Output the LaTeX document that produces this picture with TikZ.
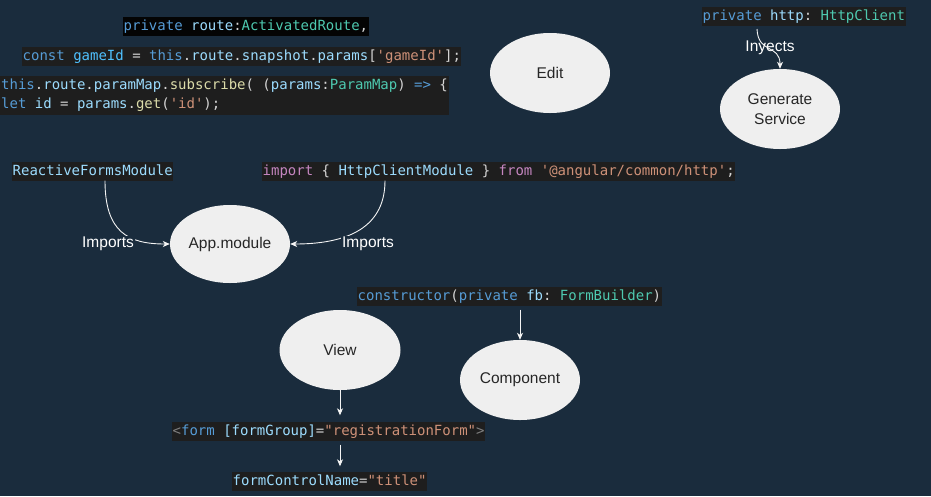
\documentclass[tikz,border=0pt]{standalone}
\usepackage{fontspec}
\setmainfont{Liberation Sans}
\setsansfont{Liberation Sans}
\setmonofont{DejaVu Sans Mono}
\usetikzlibrary{shapes.geometric,arrows.meta}
\definecolor{bg}{RGB}{26,44,61}
\definecolor{codebg}{RGB}{30,30,30}
\definecolor{codebk}{RGB}{4,4,4}
\definecolor{kw}{HTML}{569CD6}
\definecolor{var}{HTML}{9CDCFE}
\definecolor{cst}{HTML}{4FC1FF}
\definecolor{typ}{HTML}{4EC9B0}
\definecolor{str}{HTML}{CE9178}
\definecolor{fn}{HTML}{DCDCAA}
\definecolor{ctl}{HTML}{C586C0}
\definecolor{pl}{HTML}{D4D4D4}
\definecolor{gr}{HTML}{808080}
\definecolor{ellfill}{HTML}{EFEFEF}
\definecolor{lnc}{HTML}{F4F4F4}
\newcommand{\K}[1]{\textcolor{kw}{#1}}
\newcommand{\V}[1]{\textcolor{var}{#1}}
\newcommand{\C}[1]{\textcolor{cst}{#1}}
\newcommand{\T}[1]{\textcolor{typ}{#1}}
\newcommand{\Sq}[1]{\textcolor{str}{#1}}
\newcommand{\F}[1]{\textcolor{fn}{#1}}
\newcommand{\Ct}[1]{\textcolor{ctl}{#1}}
\newcommand{\G}[1]{\textcolor{gr}{#1}}
\begin{document}
\begin{tikzpicture}[x=1pt,y=-1pt,
  codebox/.style={fill=codebg, text=pl, inner xsep=0.5pt, inner ysep=0pt,
    minimum height=19pt, text height=12pt, text depth=3pt,
    font=\ttfamily\fontsize{14}{19}\selectfont, anchor=west},
  codeblock/.style={fill=codebg, text=pl, inner xsep=1pt, inner ysep=3pt,
    font=\ttfamily\fontsize{14}{19}\selectfont, align=left, anchor=north west},
  ell/.style={ellipse, fill=ellfill, draw=none, inner sep=0pt,
    minimum width=120pt, minimum height=80pt, text=black!85,
    font=\sffamily\fontsize{15.5}{20}\selectfont, align=center},
  lbl/.style={text=white, font=\sffamily\fontsize{15.5}{18}\selectfont, inner sep=1pt},
  arr/.style={draw=lnc, line width=0.9pt, -{Stealth[length=7pt,width=6pt,inset=2pt]}}]
\useasboundingbox[fill=bg] (0,0) rectangle (931,496);

% code boxes
\node[codebox, fill=codebk] (route) at (123,26) {\K{private} \V{route}:\T{ActivatedRoute},};
\node[codebox] (gid) at (22,56) {\K{const} \C{gameId} = \K{this}.\V{route}.\V{snapshot}.\V{params}[\Sq{'gameId'}];};
\node[codeblock] (pmap) at (0,76)
  {\K{this}.\V{route}.\V{paramMap}.\F{subscribe}( (\V{params}:\T{ParamMap}) \K{=>} \{\\
   \K{let} \V{id} = \V{params}.\F{get}(\Sq{'id'});};
\node[codebox] (http) at (702,16) {\K{private} \V{http}: \T{HttpClient}};
\node[codebox] (rfm) at (12,171) {\V{ReactiveFormsModule}};
\node[codebox] (imp) at (262,171) {\Ct{import} \{ \V{HttpClientModule} \} \Ct{from} \Sq{'@angular/common/http'};};
\node[codebox] (cons) at (357,296) {\K{constructor}(\K{private} \V{fb}: \T{FormBuilder})};
\node[codebox] (form) at (172,431) {\G{<}\K{form} \V{[formGroup]}=\Sq{"registrationForm"}\G{>}};
\node[codebox] (fcn) at (232,481) {\V{formControlName}=\Sq{"title"}};

% ellipses
\node[ell] (edit) at (550,73) {Edit};
\node[ell] (gen) at (780,109) {Generate\\Service};
\node[ell, minimum height=78pt] (app) at (230,244) {App.module};
\node[ell, minimum width=121pt] (view) at (340,350) {View};
\node[ell] (comp) at (520,380) {Component};

% connectors
\coordinate (injs) at (757,29);
\draw[arr] (injs) .. controls (758,54) and (780,44) .. (gen.north);
\node[lbl] (inj) at (770,48) {Inyects};

\draw[arr] (rfm.south -| 105,0) .. controls (105,232) and (128,244) .. (app.west);
\node[lbl, fill=bg] (imp1) at (108,244) {Imports};
\draw[arr] (imp.south -| 385,0) .. controls (385,232) and (340,244) .. (app.east);
\node[lbl, fill=bg] (imp2) at (368,244) {Imports};

\draw[arr, shorten <=4pt] (cons.south -| comp.north) -- (comp.north);
\draw[arr, shorten >=6pt] (view.south) -- (form.north -| view.south);
\draw[arr, shorten <=4pt, shorten >=5pt] (form.south -| view.south) -- (fcn.north -| view.south);
\end{tikzpicture}
\end{document}
